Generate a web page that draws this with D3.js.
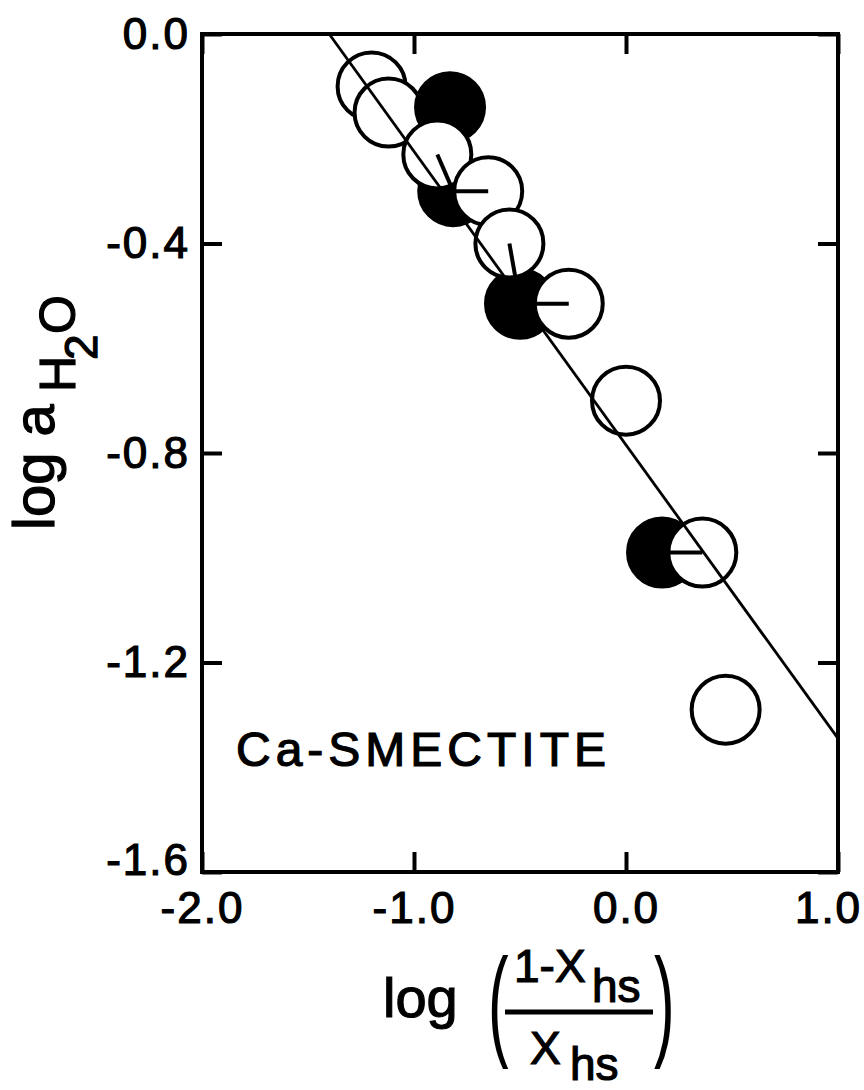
<!DOCTYPE html>
<html>
<head>
<meta charset="utf-8">
<script src="https://cdn.jsdelivr.net/npm/d3@7"></script>
<style>
  body { margin: 0; background: #fff; }
  text { font-family: "Liberation Sans", Arial, sans-serif; fill: #000; }
</style>
</head>
<body>
<div id="chart"></div>
<script>
// data points, listed in drawing order (later ones sit on top)
var ptX      = [-1.20, -1.12, -0.83, -0.815, -0.89, -0.65, -0.50, -0.55, -0.27, 0.00, 0.17, 0.36, 0.47];
var ptY      = [-0.10, -0.15, -0.14, -0.30, -0.23, -0.30, -0.515, -0.40, -0.515, -0.70, -0.99, -0.99, -1.29];
var ptFilled = [false, false, true, true, false, false, true, false, false, false, true, false, false];

// short tie lines between paired points (indices into the arrays above)
var tieFrom = [4, 3, 7, 6, 10];
var tieTo   = [3, 5, 6, 8, 11];

// fitted line
var fitX = [-1.40, 1.0];
var fitY = [0.0, -1.345];

var xTicks = [-2, -1, 0, 1];
var xTickLabels = ["-2.0", "-1.0", "0.0", "1.0"];
var yTicks = [-1.6, -1.2, -0.8, -0.4, 0];
var yTickLabels = ["-1.6", "-1.2", "-0.8", "-0.4", "0.0"];

var width = 864, height = 1090;
var plotLeft = 202, plotRight = 838, plotTop = 34, plotBottom = 872;

var svg = d3.select('#chart').append('svg')
  .attr('width', width)
  .attr('height', height);

var x = d3.scaleLinear().domain([-2, 1]).range([plotLeft, plotRight]);
var y = d3.scaleLinear().domain([-1.6, 0]).range([plotBottom, plotTop]);

// ticks (all point inward)
function styleAxis(g) {
  g.select('.domain').remove();
  g.selectAll('.tick line').attr('stroke', '#000').attr('stroke-width', 4);
  g.selectAll('.tick text')
    .style('font-size', '44px')
    .style('letter-spacing', '2px')
    .attr('fill', '#000')
    .attr('stroke', '#000')
    .attr('stroke-width', 1.2);
}

svg.append('g')
  .attr('transform', 'translate(0,' + plotBottom + ')')
  .call(d3.axisBottom(x).tickValues(xTicks).tickSize(-20).tickPadding(20)
    .tickFormat(function(d, i){ return xTickLabels[i]; }))
  .call(styleAxis)
  .selectAll('.tick text')
  .attr('dx', function(d){ return d === 1 ? -10 : 0; });

svg.append('g')
  .attr('transform', 'translate(0,' + plotTop + ')')
  .call(d3.axisTop(x).tickValues(xTicks).tickSize(-20).tickFormat(''))
  .call(styleAxis);

svg.append('g')
  .attr('transform', 'translate(' + plotLeft + ',0)')
  .call(d3.axisLeft(y).tickValues(yTicks).tickSize(-20).tickPadding(12)
    .tickFormat(function(d, i){ return yTickLabels[i]; }))
  .call(styleAxis)
  .selectAll('.tick text')
  .attr('y', function(d){ return d === -1.6 ? -12 : 0; });

svg.append('g')
  .attr('transform', 'translate(' + plotRight + ',0)')
  .call(d3.axisRight(y).tickValues(yTicks).tickSize(-20).tickFormat(''))
  .call(styleAxis);

// frame
svg.append('rect')
  .attr('x', plotLeft).attr('y', plotTop)
  .attr('width', plotRight - plotLeft).attr('height', plotBottom - plotTop)
  .attr('fill', 'none')
  .attr('stroke', '#000')
  .attr('stroke-width', 4);

// circles
svg.append('g').selectAll('circle')
  .data(ptX)
  .enter().append('circle')
  .attr('cx', function(d){ return x(d); })
  .attr('cy', function(d, i){ return y(ptY[i]); })
  .attr('r', 34)
  .attr('fill', function(d, i){ return ptFilled[i] ? '#000' : '#fff'; })
  .attr('stroke', '#000')
  .attr('stroke-width', 4);

// tie lines
svg.append('g').selectAll('line')
  .data(tieFrom)
  .enter().append('line')
  .attr('x1', function(d){ return x(ptX[d]); })
  .attr('y1', function(d){ return y(ptY[d]); })
  .attr('x2', function(d, i){ return x(ptX[tieTo[i]]); })
  .attr('y2', function(d, i){ return y(ptY[tieTo[i]]); })
  .attr('stroke', '#000')
  .attr('stroke-width', 4);

// fitted line
var line = d3.line()
  .x(function(d){ return x(d); })
  .y(function(d, i){ return y(fitY[i]); });

svg.append('path')
  .datum(fitX)
  .attr('d', line)
  .attr('fill', 'none')
  .attr('stroke', '#000')
  .attr('stroke-width', 2.8);

// label inside plot
svg.append('text')
  .attr('x', 236).attr('y', 766)
  .style('font-size', '48px')
  .style('letter-spacing', '5px')
  .attr('stroke', '#000').attr('stroke-width', 1.2)
  .text('Ca-SMECTITE');

// y axis title: log a_{H2O}
var yt = svg.append('g')
  .attr('transform', 'translate(54,530) rotate(-90)')
  .attr('stroke', '#000').attr('stroke-width', 1.2);
yt.append('text').attr('x', 0).attr('y', 0).style('font-size', '58px').text('log a');
yt.append('text').attr('x', 138).attr('y', 21).style('font-size', '50px').text('H');
yt.append('text').attr('x', 170).attr('y', 43).style('font-size', '46px').text('2');
yt.append('text').attr('x', 196).attr('y', 21).style('font-size', '50px').text('O');

// x axis title: log ((1 - X_hs) / X_hs)
var xt = svg.append('g').attr('stroke', '#000').attr('stroke-width', 1.2);
xt.append('text').attr('x', 383).attr('y', 1017).style('font-size', '56px').text('log');
xt.append('text')
  .attr('transform', 'translate(488,1044) scale(1,1.98)')
  .attr('stroke-width', 0)
  .style('font-size', '62px').text('(');
xt.append('text')
  .attr('transform', 'translate(654,1044) scale(1,1.98)')
  .attr('stroke-width', 0)
  .style('font-size', '62px').text(')');
xt.append('text').attr('x', 514).attr('y', 982).style('font-size', '46px').text('1-X');
xt.append('text').attr('x', 592).attr('y', 1002).style('font-size', '46px').text('hs');
xt.append('line')
  .attr('x1', 505).attr('x2', 653)
  .attr('y1', 1012).attr('y2', 1012)
  .attr('stroke-width', 5);
xt.append('text').attr('x', 530).attr('y', 1064).style('font-size', '46px').text('X');
xt.append('text').attr('x', 570).attr('y', 1080).style('font-size', '46px').text('hs');
</script>
</body>
</html>
